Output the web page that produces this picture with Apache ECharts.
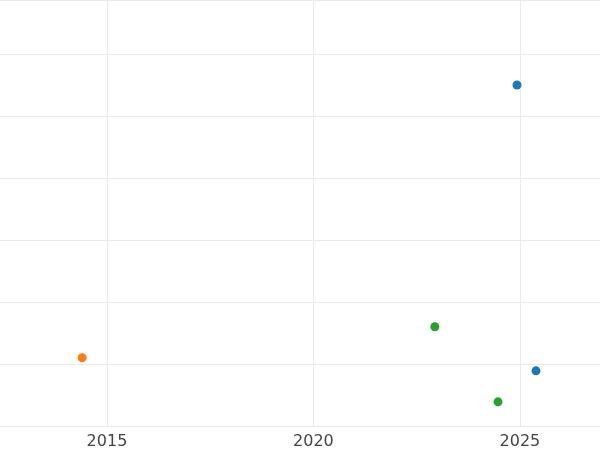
<!DOCTYPE html>
<html><head><meta charset="utf-8">
<script src="https://cdn.jsdelivr.net/npm/echarts@6/dist/echarts.min.js"></script>
<style>html,body{margin:0;padding:0}#c{width:600px;height:450px}</style>
</head><body><div id="c"></div>
<script>
const xTicks = [2015, 2020, 2025];
const blueSeries = [[2024.93, 5.5], [2025.39, 0.89]];
const orangeSeries = [[2014.40, 1.1]];
const greenSeries = [[2022.94, 1.6], [2024.47, 0.39]];
const chart = echarts.init(document.getElementById('c'));
const mk = (d, c) => ({type:'scatter', data:d, symbolSize:9, itemStyle:{color:c,opacity:1}});
chart.setOption({
  animation:false,
  grid:{left:0,right:0,top:0,bottom:24,containLabel:false},
  xAxis:{type:'value',min:2012.41,max:2026.94,
    axisLine:{show:false},
    axisTick:{show:false,customValues:xTicks},
    axisLabel:{customValues:xTicks,formatter:v=>String(v),color:'#444',fontSize:16,fontFamily:'DejaVu Sans',margin:8},
    splitLine:{show:true,lineStyle:{color:'#ebebeb'}}},
  yAxis:{type:'value',min:0,max:6.87,interval:1,axisLabel:{show:false},axisLine:{show:false},axisTick:{show:false},
    splitLine:{lineStyle:{color:'#ebebeb'}}},
  series:[mk(blueSeries,'#1f77b4'),mk(orangeSeries,'#ff7f0e'),mk(greenSeries,'#2ca02c')]
});
</script></body></html>
